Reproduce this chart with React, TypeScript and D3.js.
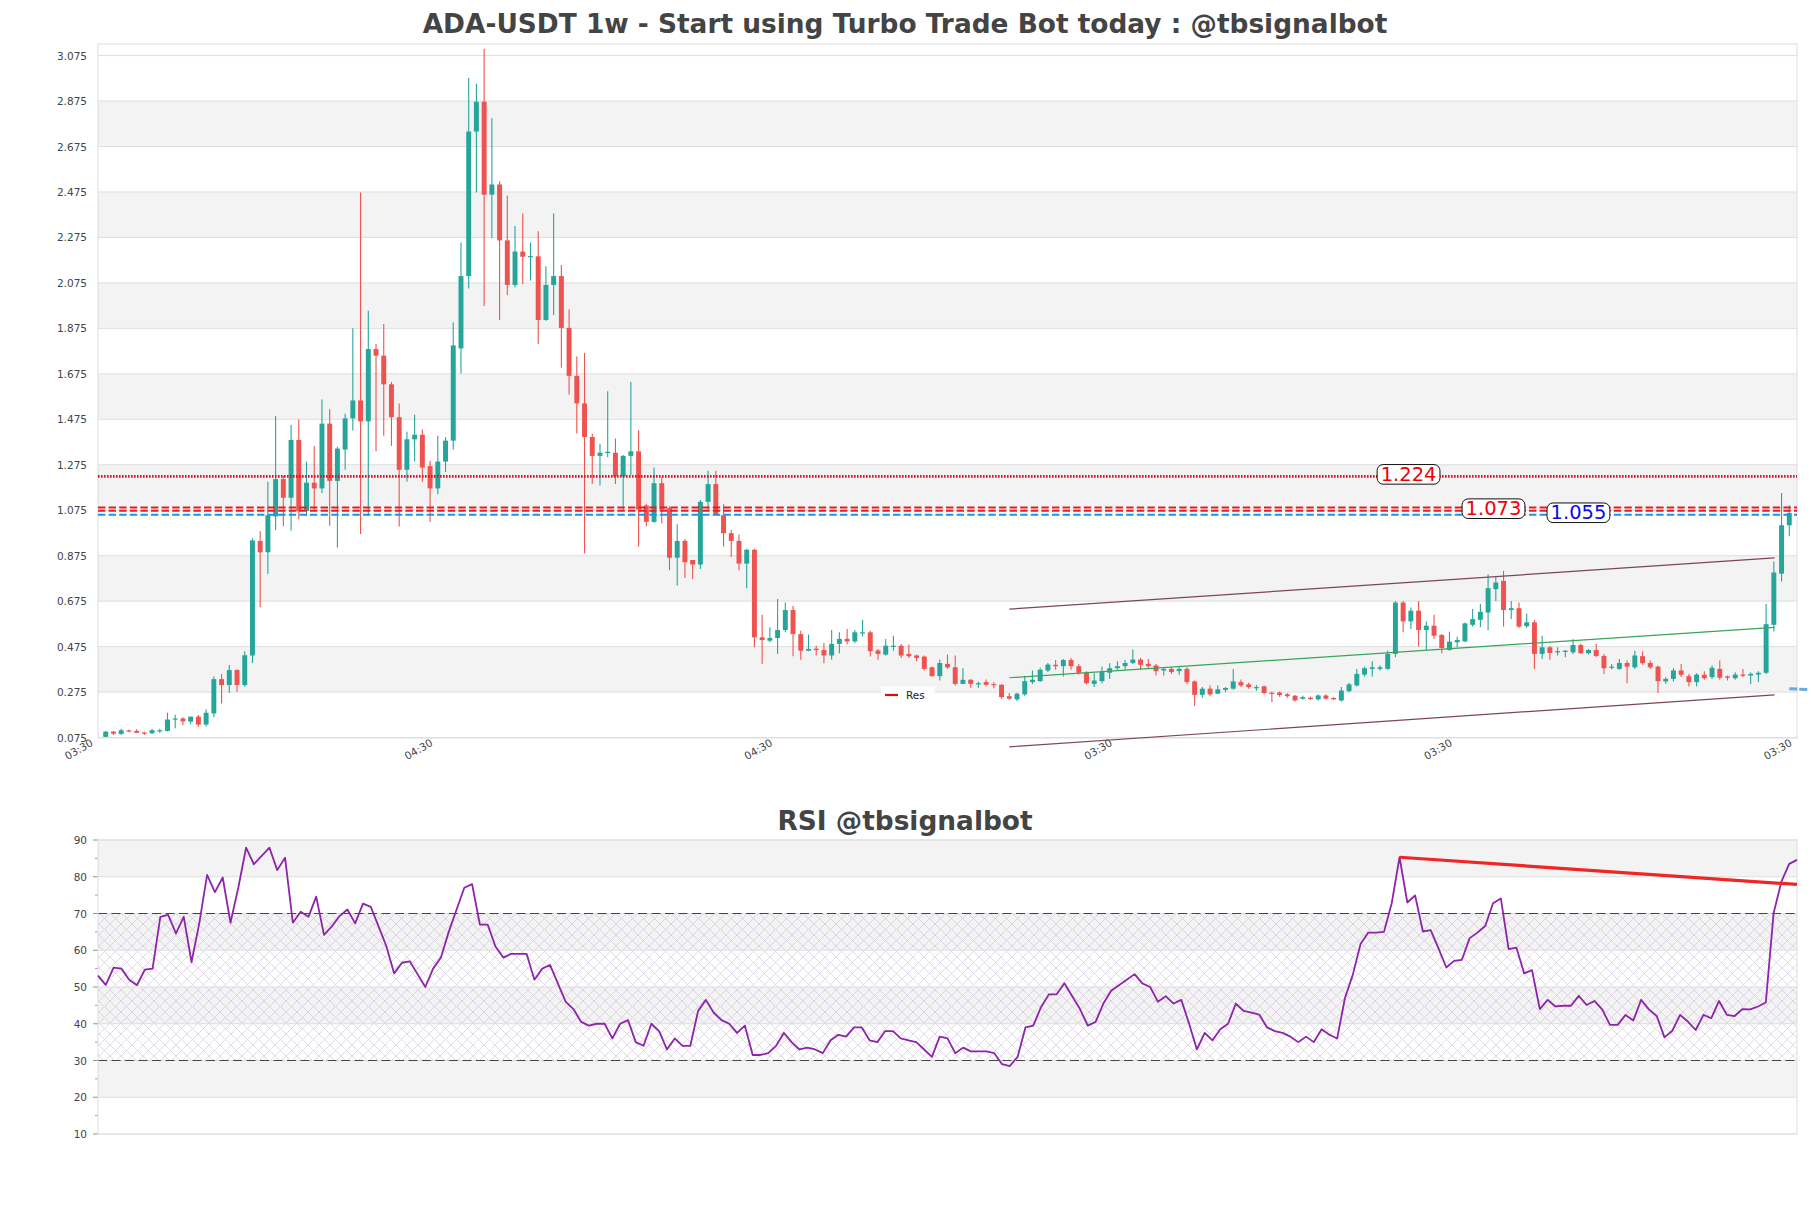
import { useEffect, useRef } from "react";
import * as d3 from "d3";

// ---- data (weekly candles, index 0..218) ----
const OPEN = [
  0.078, 0.101, 0.091, 0.106, 0.104, 0.097, 0.094, 0.104, 0.104, 0.154,
  0.159, 0.145, 0.167, 0.132, 0.181, 0.332, 0.306, 0.372, 0.306, 0.436,
  0.94, 0.89, 1.048, 1.212, 1.13, 1.384, 1.072, 1.196, 1.171, 1.456,
  1.204, 1.342, 1.479, 1.558, 1.466, 1.784, 1.755, 1.629, 1.484, 1.253,
  1.387, 1.407, 1.269, 1.171, 1.289, 1.381, 1.787, 2.105, 2.741, 2.872,
  2.463, 2.508, 2.262, 2.066, 2.213, 2.188, 2.192, 1.912, 2.066, 2.105,
  1.877, 1.666, 1.545, 1.397, 1.314, 1.326, 1.328, 1.224, 1.314, 1.334,
  1.096, 1.024, 1.194, 1.084, 0.866, 0.94, 0.856, 0.836, 1.112, 1.19,
  1.053, 0.974, 0.94, 0.84, 0.901, 0.516, 0.501, 0.513, 0.548, 0.636,
  0.53, 0.457, 0.466, 0.46, 0.436, 0.487, 0.509, 0.498, 0.535, 0.538,
  0.458, 0.44, 0.476, 0.479, 0.443, 0.436, 0.431, 0.384, 0.345, 0.399,
  0.384, 0.311, 0.329, 0.311, 0.319, 0.31, 0.307, 0.257, 0.243, 0.265,
  0.319, 0.323, 0.37, 0.395, 0.389, 0.416, 0.389, 0.36, 0.311, 0.323,
  0.36, 0.38, 0.389, 0.403, 0.418, 0.399, 0.392, 0.37, 0.377, 0.367,
  0.377, 0.322, 0.263, 0.29, 0.268, 0.285, 0.29, 0.319, 0.309, 0.294,
  0.3, 0.272, 0.273, 0.265, 0.259, 0.246, 0.25, 0.243, 0.26, 0.249,
  0.238, 0.279, 0.304, 0.352, 0.377, 0.377, 0.377, 0.443, 0.669, 0.586,
  0.633, 0.548, 0.567, 0.526, 0.46, 0.494, 0.498, 0.571, 0.593, 0.625,
  0.728, 0.764, 0.636, 0.644, 0.565, 0.582, 0.443, 0.472, 0.45, 0.455,
  0.45, 0.482, 0.446, 0.46, 0.434, 0.382, 0.377, 0.403, 0.384, 0.433,
  0.403, 0.387, 0.322, 0.333, 0.37, 0.345, 0.319, 0.351, 0.341, 0.377,
  0.344, 0.336, 0.352, 0.348, 0.352, 0.36, 0.571, 0.796, 1.009,
];
const HIGH = [
  0.104, 0.104, 0.114, 0.11, 0.112, 0.1, 0.113, 0.114, 0.184, 0.175,
  0.164, 0.167, 0.174, 0.199, 0.344, 0.354, 0.394, 0.375, 0.455, 0.952,
  0.983, 1.2, 1.49, 1.228, 1.45, 1.474, 1.289, 1.358, 1.562, 1.519,
  1.354, 1.499, 1.875, 2.473, 1.952, 1.806, 1.894, 1.639, 1.544, 1.42,
  1.495, 1.43, 1.293, 1.403, 1.397, 1.902, 2.253, 2.977, 2.951, 3.105,
  2.799, 2.522, 2.459, 2.325, 2.38, 2.253, 2.302, 2.148, 2.38, 2.154,
  1.958, 1.751, 1.767, 1.411, 1.367, 1.598, 1.391, 1.318, 1.639, 1.427,
  1.102, 1.263, 1.22, 1.092, 1.013, 0.948, 0.856, 1.12, 1.249, 1.249,
  1.102, 0.988, 0.968, 0.905, 0.905, 0.615, 0.56, 0.684, 0.669, 0.655,
  0.545, 0.528, 0.479, 0.491, 0.548, 0.538, 0.552, 0.548, 0.592, 0.545,
  0.465, 0.509, 0.523, 0.487, 0.484, 0.44, 0.436, 0.387, 0.418, 0.44,
  0.436, 0.38, 0.333, 0.322, 0.33, 0.318, 0.311, 0.271, 0.272, 0.347,
  0.37, 0.382, 0.403, 0.416, 0.421, 0.425, 0.399, 0.367, 0.358, 0.387,
  0.402, 0.411, 0.416, 0.462, 0.425, 0.421, 0.399, 0.384, 0.384, 0.384,
  0.384, 0.326, 0.297, 0.304, 0.304, 0.297, 0.377, 0.33, 0.316, 0.306,
  0.304, 0.278, 0.278, 0.271, 0.262, 0.259, 0.255, 0.265, 0.265, 0.252,
  0.297, 0.315, 0.377, 0.387, 0.411, 0.393, 0.457, 0.676, 0.676, 0.647,
  0.676, 0.586, 0.615, 0.53, 0.541, 0.518, 0.581, 0.64, 0.662, 0.793,
  0.786, 0.808, 0.676, 0.669, 0.621, 0.592, 0.523, 0.479, 0.472, 0.46,
  0.509, 0.489, 0.465, 0.487, 0.443, 0.399, 0.421, 0.414, 0.457, 0.454,
  0.414, 0.392, 0.34, 0.38, 0.399, 0.355, 0.358, 0.367, 0.392, 0.414,
  0.348, 0.362, 0.377, 0.362, 0.367, 0.662, 0.849, 1.151, 1.097,
];
const LOW = [
  0.077, 0.086, 0.087, 0.098, 0.095, 0.086, 0.091, 0.096, 0.102, 0.116,
  0.129, 0.133, 0.123, 0.124, 0.164, 0.225, 0.271, 0.277, 0.298, 0.403,
  0.648, 0.795, 0.988, 1.005, 0.985, 1.035, 1.049, 1.072, 1.151, 1.007,
  0.911, 1.253, 1.426, 0.97, 1.053, 1.334, 1.403, 1.358, 1.003, 1.2,
  1.289, 1.2, 1.023, 1.145, 1.243, 1.342, 1.676, 2.05, 2.473, 1.973,
  2.272, 1.912, 2.022, 2.056, 2.07, 2.085, 1.806, 1.908, 1.934, 1.702,
  1.584, 1.413, 0.885, 1.19, 1.184, 1.308, 1.19, 1.072, 1.23, 0.915,
  1.004, 1.02, 1.018, 0.811, 0.744, 0.777, 0.773, 0.817, 1.072, 1.051,
  0.915, 0.869, 0.811, 0.732, 0.472, 0.399, 0.494, 0.443, 0.538, 0.433,
  0.417, 0.455, 0.436, 0.402, 0.417, 0.446, 0.484, 0.49, 0.519, 0.431,
  0.417, 0.436, 0.457, 0.425, 0.425, 0.411, 0.37, 0.344, 0.326, 0.377,
  0.304, 0.309, 0.294, 0.294, 0.301, 0.292, 0.246, 0.241, 0.236, 0.259,
  0.311, 0.32, 0.363, 0.373, 0.344, 0.373, 0.351, 0.309, 0.297, 0.314,
  0.333, 0.373, 0.373, 0.399, 0.373, 0.377, 0.348, 0.348, 0.355, 0.351,
  0.31, 0.214, 0.25, 0.257, 0.265, 0.275, 0.285, 0.297, 0.29, 0.281,
  0.264, 0.231, 0.255, 0.25, 0.234, 0.241, 0.241, 0.238, 0.241, 0.24,
  0.234, 0.274, 0.3, 0.343, 0.344, 0.37, 0.373, 0.428, 0.538, 0.552,
  0.475, 0.46, 0.509, 0.446, 0.457, 0.472, 0.494, 0.563, 0.56, 0.548,
  0.676, 0.563, 0.596, 0.557, 0.557, 0.377, 0.421, 0.417, 0.436, 0.428,
  0.443, 0.443, 0.441, 0.428, 0.355, 0.374, 0.373, 0.314, 0.377, 0.395,
  0.377, 0.271, 0.312, 0.322, 0.341, 0.3, 0.3, 0.329, 0.333, 0.329,
  0.326, 0.329, 0.341, 0.311, 0.319, 0.355, 0.542, 0.761, 0.961,
];
const CLOSE = [
  0.101, 0.092, 0.107, 0.101, 0.096, 0.094, 0.107, 0.107, 0.154, 0.159,
  0.146, 0.167, 0.132, 0.184, 0.332, 0.306, 0.372, 0.306, 0.437, 0.942,
  0.89, 1.053, 1.212, 1.13, 1.384, 1.07, 1.196, 1.171, 1.456, 1.204,
  1.346, 1.479, 1.558, 1.466, 1.784, 1.755, 1.629, 1.484, 1.253, 1.387,
  1.407, 1.263, 1.171, 1.289, 1.381, 1.8, 2.105, 2.741, 2.872, 2.463,
  2.508, 2.262, 2.066, 2.213, 2.19, 2.193, 1.912, 2.066, 2.105, 1.877,
  1.666, 1.545, 1.397, 1.314, 1.328, 1.332, 1.224, 1.314, 1.334, 1.078,
  1.024, 1.194, 1.078, 0.866, 0.94, 0.846, 0.836, 1.112, 1.19, 1.053,
  0.974, 0.94, 0.84, 0.901, 0.516, 0.504, 0.513, 0.548, 0.636, 0.53,
  0.457, 0.465, 0.46, 0.436, 0.487, 0.509, 0.498, 0.538, 0.538, 0.455,
  0.443, 0.479, 0.479, 0.436, 0.433, 0.425, 0.377, 0.345, 0.403, 0.384,
  0.311, 0.329, 0.311, 0.314, 0.307, 0.306, 0.253, 0.246, 0.268, 0.323,
  0.329, 0.373, 0.396, 0.389, 0.416, 0.389, 0.36, 0.314, 0.326, 0.363,
  0.38, 0.389, 0.403, 0.418, 0.395, 0.389, 0.367, 0.377, 0.363, 0.377,
  0.319, 0.263, 0.29, 0.265, 0.287, 0.293, 0.322, 0.304, 0.297, 0.297,
  0.271, 0.268, 0.262, 0.257, 0.238, 0.253, 0.244, 0.26, 0.246, 0.243,
  0.282, 0.309, 0.355, 0.38, 0.384, 0.384, 0.443, 0.669, 0.586, 0.633,
  0.548, 0.567, 0.523, 0.469, 0.497, 0.504, 0.577, 0.596, 0.628, 0.732,
  0.757, 0.636, 0.644, 0.563, 0.582, 0.443, 0.472, 0.447, 0.455, 0.457,
  0.482, 0.446, 0.46, 0.434, 0.38, 0.387, 0.403, 0.387, 0.436, 0.402,
  0.384, 0.323, 0.333, 0.37, 0.351, 0.319, 0.352, 0.336, 0.382, 0.338,
  0.338, 0.352, 0.348, 0.355, 0.36, 0.574, 0.801, 1.009, 1.063,
];
const RSI = [
  53.1, 50.6, 55.3, 55.0, 52.0, 50.5, 54.7, 55.0, 69.1, 69.6,
  64.6, 69.1, 56.8, 67.4, 80.5, 75.8, 79.8, 67.5, 77.0, 87.9,
  83.4, 85.7, 87.9, 81.8, 85.2, 67.5, 70.5, 69.1, 74.6, 64.2,
  66.5, 69.3, 71.1, 67.3, 72.7, 71.8, 66.5, 61.1, 53.7, 56.6,
  57.0, 53.5, 50.0, 55.0, 58.0, 65.0, 71.0, 77.0, 78.0, 67.0,
  67.0, 61.0, 58.0, 59.0, 59.0, 59.0, 52.0, 55.0, 56.0, 51.0,
  46.0, 44.0, 40.5, 39.5, 40.0, 40.0, 36.0, 40.0, 41.0, 35.0,
  34.0, 40.0, 38.0, 33.0, 36.0, 34.0, 34.0, 43.5, 46.5, 43.0,
  41.0, 40.0, 37.5, 39.5, 31.5, 31.5, 32.0, 34.0, 37.5, 35.0,
  33.0, 33.5, 33.0, 32.0, 35.5, 37.0, 36.5, 39.0, 39.0, 35.5,
  35.0, 38.0, 38.0, 36.0, 35.5, 35.0, 33.0, 31.0, 36.5, 36.0,
  32.0, 33.5, 32.5, 32.5, 32.5, 32.0, 29.0, 28.5, 31.0, 39.0,
  39.5, 44.5, 48.0, 48.0, 51.0, 47.5, 44.0, 39.5, 40.5, 45.5,
  49.0, 50.5, 52.0, 53.5, 51.0, 50.0, 46.0, 47.5, 45.5, 46.5,
  40.0, 33.0, 37.5, 35.5, 38.5, 40.0, 45.5, 43.5, 43.0, 42.5,
  39.0, 38.0, 37.5, 36.5, 35.0, 36.5, 35.0, 38.5, 37.0, 36.0,
  47.0, 53.3, 61.7, 64.8, 64.8, 65.0, 72.8, 85.3, 73.0, 74.9,
  65.1, 65.5, 60.5, 55.3, 57.1, 57.4, 63.3, 64.8, 66.6, 72.8,
  74.1, 60.3, 60.7, 53.7, 54.6, 44.0, 46.5, 44.7, 44.9, 44.9,
  47.6, 45.1, 46.2, 43.9, 39.7, 39.7, 42.4, 40.9, 46.5, 43.9,
  42.1, 36.3, 38.1, 42.4, 40.6, 38.3, 42.4, 41.5, 46.2, 42.4,
  42.1, 44.0, 43.9, 44.7, 45.8, 70.1, 78.7, 83.5, 84.6,
];

const PRICE_TICKS = [0.075, 0.275, 0.475, 0.675, 0.875, 1.075, 1.275, 1.475, 1.675, 1.875, 2.075, 2.275, 2.475, 2.675, 2.875, 3.075];
const RSI_TICKS = [10, 20, 30, 40, 50, 60, 70, 80, 90];
const X_TICK_IDX = [0, 44, 88, 132, 176, 220];
const X_TICK_LABELS = ["03:30", "04:30", "04:30", "03:30", "03:30", "03:30"];

const RES_LEVELS = [1.224, 1.087, 1.073];
const SUP_LEVELS = [1.055];
const LEVEL_LABELS = [1.224, 1.073, 1.055];

// channel drawn from candle 117 to 216.1
const CHANNEL_X = [117, 216.1];
const CHANNEL_UPPER = [0.64, 0.865];
const CHANNEL_MID = [0.338, 0.56];
const CHANNEL_LOWER = [0.034, 0.263];
const PROJ_X = [218, 220.4];
const PROJ_Y = [0.29, 0.286];

const RSI_TREND_X = [167, 218];
const RSI_TREND_Y = [85.3, 77.9];

const TITLE = "ADA-USDT 1w - Start using Turbo Trade Bot today : @tbsignalbot";
const RSI_TITLE = "RSI @tbsignalbot";

export default function App() {
  const svgRef = useRef<SVGSVGElement>(null);

  useEffect(() => {
    if (!svgRef.current) return;
    const svg = d3.select(svgRef.current);
    svg.selectAll("*").remove();

    const FONT = "'DejaVu Sans', Verdana, sans-serif";
    const TEXT = "#444";
    const GRID = "#dedede";
    const BAND = "#f3f3f3";
    const UP = "#26a69a";
    const DOWN = "#ef5350";

    const n = CLOSE.length;
    const m = { left: 98, right: 1797, top: 44, bottom: 738 };
    const x = d3.scaleLinear().domain([-1, n]).range([m.left, m.right]);
    const y = d3.scaleLinear().domain([0.073, 3.126]).range([m.bottom, m.top]);

    svg.append("rect").attr("width", 1811).attr("height", 1208).attr("fill", "#fff");

    // Titles
    svg.append("text")
      .attr("x", 905).attr("y", 23)
      .attr("text-anchor", "middle").attr("dominant-baseline", "central")
      .attr("font-family", FONT).attr("font-size", 26.4).attr("font-weight", "bold")
      .attr("fill", TEXT).text(TITLE);

    // ---------- price panel ----------
    const g = svg.append("g");

    PRICE_TICKS.forEach((t, i) => {
      if (i % 2 === 1 && i < PRICE_TICKS.length - 1) {
        g.append("rect")
          .attr("x", m.left).attr("width", m.right - m.left)
          .attr("y", y(PRICE_TICKS[i + 1])).attr("height", y(t) - y(PRICE_TICKS[i + 1]))
          .attr("fill", BAND);
      }
    });
    PRICE_TICKS.forEach((t) => {
      g.append("line")
        .attr("x1", m.left).attr("x2", m.right).attr("y1", y(t)).attr("y2", y(t))
        .attr("stroke", GRID).attr("stroke-width", 1);
      g.append("text")
        .attr("x", 87).attr("y", y(t))
        .attr("text-anchor", "end").attr("dominant-baseline", "central")
        .attr("font-family", FONT).attr("font-size", 10.5).attr("fill", TEXT)
        .text(t.toFixed(3));
    });
    g.append("rect")
      .attr("x", m.left).attr("y", m.top).attr("width", m.right - m.left).attr("height", m.bottom - m.top)
      .attr("fill", "none").attr("stroke", GRID);

    X_TICK_IDX.forEach((t, i) => {
      const tx = x(t) - 12;
      const ty = 745;
      g.append("text")
        .attr("x", tx).attr("y", ty)
        .attr("text-anchor", "end")
        .attr("transform", `rotate(-30, ${tx}, ${ty})`)
        .attr("font-family", FONT).attr("font-size", 10.5).attr("fill", TEXT)
        .text(X_TICK_LABELS[i]);
    });

    // Candles
    const candles = d3.range(n).map((i) => ({ i, o: OPEN[i], h: HIGH[i], l: LOW[i], c: CLOSE[i] }));
    const bw = (x(1) - x(0)) * 0.64;
    const cg = g.append("g").selectAll("g").data(candles).join("g");
    cg.append("line")
      .attr("x1", (d) => x(d.i)).attr("x2", (d) => x(d.i))
      .attr("y1", (d) => y(d.h)).attr("y2", (d) => y(d.l))
      .attr("stroke", (d) => (d.c >= d.o ? UP : DOWN)).attr("stroke-width", 1.1);
    cg.append("rect")
      .attr("x", (d) => x(d.i) - bw / 2).attr("width", bw)
      .attr("y", (d) => y(Math.max(d.o, d.c)))
      .attr("height", (d) => Math.max(1.2, Math.abs(y(d.o) - y(d.c))))
      .attr("fill", (d) => (d.c >= d.o ? UP : DOWN));

    // Horizontal levels
    const hline = (v: number, color: string, dash: string, w: number) =>
      g.append("line")
        .attr("x1", m.left).attr("x2", m.right).attr("y1", y(v)).attr("y2", y(v))
        .attr("stroke", color).attr("stroke-width", w).attr("stroke-dasharray", dash);
    RES_LEVELS.forEach((v, i) => {
      if (i === 0) hline(v, "#e8101a", "1.6,1.4", 2.8);
      else hline(v, "#e51d25", "7.4,3.2", 2);
    });
    SUP_LEVELS.forEach((v) => hline(v, "#1f93e6", "7.4,3.2", 2));

    // Channel
    const line2 = (ys: number[], color: string, w: number) =>
      g.append("line")
        .attr("x1", x(CHANNEL_X[0])).attr("x2", x(CHANNEL_X[1]))
        .attr("y1", y(ys[0])).attr("y2", y(ys[1]))
        .attr("stroke", color).attr("stroke-width", w);
    line2(CHANNEL_UPPER, "#7d4656", 1.2);
    line2(CHANNEL_LOWER, "#7d4656", 1.2);
    line2(CHANNEL_MID, "#38a55a", 1.2);

    g.append("line")
      .attr("x1", x(PROJ_X[0])).attr("x2", x(PROJ_X[1]))
      .attr("y1", y(PROJ_Y[0])).attr("y2", y(PROJ_Y[1]))
      .attr("stroke", "#5aa2e0").attr("stroke-width", 3).attr("stroke-dasharray", "8,2")
      .attr("opacity", 0.9);

    // Level labels
    const labelIdx = [168.7, 179.7, 190.7];
    LEVEL_LABELS.forEach((v, i) => {
      const cx = x(labelIdx[i]);
      const cy = y(v) - 2;
      const lg = g.append("g");
      const rect = lg.append("rect");
      const t = lg.append("text")
        .attr("x", cx).attr("y", cy)
        .attr("text-anchor", "middle").attr("dominant-baseline", "central")
        .attr("font-family", FONT).attr("font-size", 19.5)
        .attr("fill", i === 2 ? "#0a0ae6" : "#f00000")
        .text(v.toFixed(3));
      const tw = (t.node() as SVGTextElement).getComputedTextLength();
      rect.attr("x", cx - tw / 2 - 3.5).attr("y", cy - 9.8)
        .attr("width", tw + 7).attr("height", 19.6)
        .attr("rx", 6).attr("ry", 6)
        .attr("fill", "#fff").attr("stroke", "#111").attr("stroke-width", 1);
    });

    // Legend
    const leg = g.append("g");
    leg.append("rect").attr("x", 881).attr("y", 686.5).attr("width", 54).attr("height", 16)
      .attr("fill", "#fff").attr("opacity", 0.9);
    leg.append("line").attr("x1", 885).attr("x2", 898).attr("y1", 695).attr("y2", 695)
      .attr("stroke", "#d10f14").attr("stroke-width", 2.2);
    leg.append("text").attr("x", 906).attr("y", 695)
      .attr("dominant-baseline", "central")
      .attr("font-family", FONT).attr("font-size", 10.5).attr("fill", "#222").text("Res");

    // ---------- RSI panel ----------
    const r = { left: 98, right: 1797, top: 840, bottom: 1134 };
    const rx = d3.scaleLinear().domain([0, n - 1]).range([r.left, r.right]);
    const ry = d3.scaleLinear().domain([10, 90]).range([r.bottom, r.top]);

    svg.append("text")
      .attr("x", 905).attr("y", 820)
      .attr("text-anchor", "middle").attr("dominant-baseline", "central")
      .attr("font-family", FONT).attr("font-size", 26.4).attr("font-weight", "bold")
      .attr("fill", TEXT).text(RSI_TITLE);

    const defs = svg.append("defs");
    const pat = defs.append("pattern")
      .attr("id", "rsiHatch").attr("patternUnits", "userSpaceOnUse")
      .attr("width", 11).attr("height", 11);
    pat.append("path").attr("d", "M0,0 L11,11 M11,0 L0,11 M-1,10 L1,12 M10,-1 L12,1 M-1,1 L1,-1 M10,12 L12,10")
      .attr("stroke", "#cdbfd8").attr("stroke-width", 0.7).attr("fill", "none");

    const rg = svg.append("g");
    RSI_TICKS.forEach((t, i) => {
      if (i % 2 === 1 && i < RSI_TICKS.length - 1) {
        rg.append("rect")
          .attr("x", r.left).attr("width", r.right - r.left)
          .attr("y", ry(RSI_TICKS[i + 1])).attr("height", ry(t) - ry(RSI_TICKS[i + 1]))
          .attr("fill", BAND);
      }
    });
    rg.append("rect")
      .attr("x", r.left).attr("width", r.right - r.left)
      .attr("y", ry(70)).attr("height", ry(30) - ry(70))
      .attr("fill", "url(#rsiHatch)").attr("opacity", 0.85);
    RSI_TICKS.forEach((t) => {
      rg.append("line")
        .attr("x1", r.left).attr("x2", r.right).attr("y1", ry(t)).attr("y2", ry(t))
        .attr("stroke", GRID);
      rg.append("line")
        .attr("x1", r.left - 5).attr("x2", r.left).attr("y1", ry(t)).attr("y2", ry(t))
        .attr("stroke", "#777").attr("stroke-width", 0.8);
      rg.append("text")
        .attr("x", 87).attr("y", ry(t))
        .attr("text-anchor", "end").attr("dominant-baseline", "central")
        .attr("font-family", FONT).attr("font-size", 10.5).attr("fill", TEXT)
        .text(String(t));
    });
    RSI_TICKS.slice(0, -1).forEach((t) => {
      rg.append("line")
        .attr("x1", r.left - 3).attr("x2", r.left).attr("y1", ry(t + 5)).attr("y2", ry(t + 5))
        .attr("stroke", "#777").attr("stroke-width", 0.7);
    });
    [70, 30].forEach((v) => {
      rg.append("line")
        .attr("x1", r.left).attr("x2", r.right).attr("y1", ry(v)).attr("y2", ry(v))
        .attr("stroke", "#444").attr("stroke-width", 1.2).attr("stroke-dasharray", "9,4.5");
    });
    rg.append("rect")
      .attr("x", r.left).attr("y", r.top).attr("width", r.right - r.left).attr("height", r.bottom - r.top)
      .attr("fill", "none").attr("stroke", GRID);

    const rsiLine = d3.line<number>().x((_, i) => rx(i)).y((d) => ry(d));
    rg.append("path")
      .datum(RSI)
      .attr("d", rsiLine)
      .attr("fill", "none").attr("stroke", "#8e24aa").attr("stroke-width", 1.8)
      .attr("stroke-linejoin", "round");

    rg.append("line")
      .attr("x1", rx(RSI_TREND_X[0])).attr("x2", rx(RSI_TREND_X[1]))
      .attr("y1", ry(RSI_TREND_Y[0])).attr("y2", ry(RSI_TREND_Y[1]))
      .attr("stroke", "#f02525").attr("stroke-width", 3.2);
  }, []);

  return (
    <div style={{ position: "absolute", left: 0, top: 0, background: "#fff" }}>
      <svg ref={svgRef} width={1811} height={1208} style={{ display: "block" }} />
    </div>
  );
}
